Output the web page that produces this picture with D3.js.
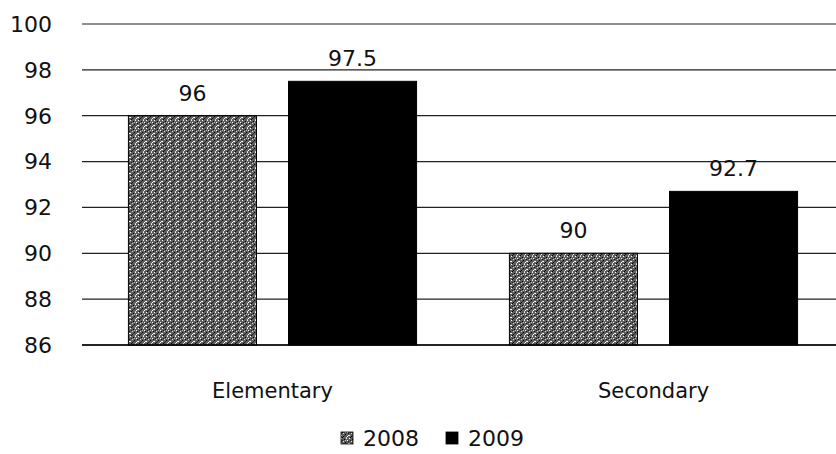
<!DOCTYPE html>
<html lang="en">
<head>
<meta charset="utf-8">
<title>Elementary vs Secondary</title>
<script src="https://cdn.jsdelivr.net/npm/d3@7"></script>
<style>
  body { margin: 0; background: #fff; }
  text { font-family: "DejaVu Sans", "Open Sans", sans-serif; fill: #111; }
  .grid line { stroke: #222; stroke-width: 1.2px; }
</style>
</head>
<body>
<svg width="836" height="454"></svg>
<script>
// chart data
var categories = ["Elementary", "Secondary"];
var series = ["2008", "2009"];
var values2008 = [96, 90];
var values2009 = [97.5, 92.7];
var yTicks = [86, 88, 90, 92, 94, 96, 98, 100];

var svg = d3.select("svg"),
    width = +svg.attr("width"),
    height = +svg.attr("height");

var margin = {left: 82, right: -8, top: 24, bottom: 109};

// grainy fill for 2008, like the scanned original
var defs = svg.append("defs");
var pat = defs.append("pattern")
  .attr("id", "grain")
  .attr("patternUnits", "userSpaceOnUse")
  .attr("width", 8).attr("height", 8);
pat.append("rect").attr("width", 8).attr("height", 8).attr("fill", "#5e5e5e");
var dots = [[0,0,"#fff"],[3,1,"#000"],[5,0,"#eee"],[1,2,"#222"],[6,2,"#fff"],[2,3,"#ddd"],
            [4,4,"#000"],[7,3,"#111"],[0,5,"#fff"],[3,5,"#333"],[6,6,"#fff"],[1,7,"#000"],
            [5,7,"#ccc"],[2,6,"#111"],[7,5,"#eee"],[4,2,"#bbb"]];
dots.forEach(function(d) {
  pat.append("rect").attr("x", d[0]).attr("y", d[1]).attr("width", 1).attr("height", 1).attr("fill", d[2]);
});

var x0 = d3.scaleBand()
  .domain(categories)
  .range([margin.left, width - margin.right])
  .paddingInner(0).paddingOuter(0);

var x1 = d3.scaleBand()
  .domain(series)
  .range([0, x0.bandwidth()])
  .paddingInner(0.2).paddingOuter(0.29);

var y = d3.scaleLinear()
  .domain([86, 100])
  .range([height - margin.bottom, margin.top]);

// gridlines + tick labels
var grid = svg.append("g").attr("class", "grid");
grid.selectAll("line")
  .data(yTicks)
  .enter().append("line")
  .attr("x1", margin.left).attr("x2", width)
  .attr("y1", d => y(d)).attr("y2", d => y(d));

svg.append("g").selectAll("text")
  .data(yTicks)
  .enter().append("text")
  .attr("x", 52)
  .attr("y", d => y(d))
  .attr("dy", "0.36em")
  .attr("text-anchor", "end")
  .style("font-size", "22px")
  .text(d => d);

var rows = categories.map(function(c, i) {
  return {cat: c, vals: [{s: "2008", v: values2008[i]}, {s: "2009", v: values2009[i]}]};
});

var fills = {"2008": "url(#grain)", "2009": "#000"};

var groups = svg.selectAll(".cat")
  .data(rows)
  .enter().append("g")
  .attr("class", "cat")
  .attr("transform", d => "translate(" + x0(d.cat) + ",0)");

groups.selectAll("rect")
  .data(d => d.vals)
  .enter().append("rect")
  .attr("x", d => x1(d.s))
  .attr("width", x1.bandwidth())
  .attr("y", d => y(d.v))
  .attr("height", d => y(86) - y(d.v))
  .attr("fill", d => fills[d.s])
  .attr("stroke", "#000")
  .attr("stroke-width", 1);

groups.selectAll(".lbl")
  .data(d => d.vals)
  .enter().append("text")
  .attr("class", "lbl")
  .attr("x", d => x1(d.s) + x1.bandwidth() / 2)
  .attr("y", d => y(d.v) - 15)
  .attr("text-anchor", "middle")
  .style("font-size", "22px")
  .text(d => d.v);

// baseline
svg.append("line")
  .attr("x1", margin.left).attr("x2", width)
  .attr("y1", y(86)).attr("y2", y(86))
  .attr("stroke", "#000").attr("stroke-width", 1.5);

// category labels
svg.append("g").selectAll("text")
  .data(categories)
  .enter().append("text")
  .attr("x", d => x0(d) + x0.bandwidth() / 2)
  .attr("y", 398)
  .attr("text-anchor", "middle")
  .style("font-size", "21px")
  .text(d => d);

// legend
var legend = svg.append("g").attr("transform", "translate(341,438)");
var li = legend.selectAll("g")
  .data(series)
  .enter().append("g")
  .attr("transform", (d, i) => "translate(" + (i * 105) + ",0)");
li.append("rect")
  .attr("y", -6)
  .attr("width", 12).attr("height", 12)
  .attr("fill", d => fills[d])
  .attr("stroke", "#000").attr("stroke-width", 0.8);
li.append("text")
  .attr("x", 22).attr("y", 0)
  .attr("dy", "0.36em")
  .style("font-size", "22px")
  .text(d => d);
</script>
</body>
</html>
